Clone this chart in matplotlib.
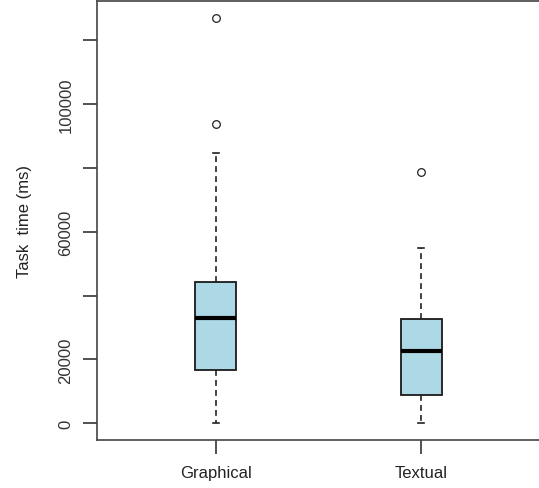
import matplotlib
matplotlib.use("Agg")
import matplotlib.pyplot as plt

plt.rcParams['font.family'] = ['Liberation Sans', 'DejaVu Sans']

# values (ms)
groups = ["Graphical", "Textual"]
lower_whisker = [0, 100]
q1 = [16780, 8760]
median = [32900, 22720]
q3 = [44130, 32640]
upper_whisker = [84500, 54800]
outliers = [[93600, 126900], [78750]]

y_ticks = [0, 20000, 40000, 60000, 80000, 100000, 120000]
y_labels = ["0", "20000", "", "60000", "", "100000", ""]

stats = []
for i, name in enumerate(groups):
    stats.append({
        "label": name,
        "whislo": lower_whisker[i],
        "q1": q1[i],
        "med": median[i],
        "q3": q3[i],
        "whishi": upper_whisker[i],
        "fliers": outliers[i],
    })

fig = plt.figure(figsize=(5.39, 4.89), dpi=100)
ax = fig.add_axes([97 / 539, 48 / 489, 443 / 539, 439 / 489])

ax.bxp(stats, positions=[1, 2], widths=0.2, patch_artist=True,
       boxprops=dict(facecolor="#ADD8E6", edgecolor="#1a1a1a", linewidth=1.3),
       medianprops=dict(color="black", linewidth=3, solid_capstyle="butt"),
       whiskerprops=dict(color="#222222", linewidth=1.2, linestyle=(0, (3.5, 2.5))),
       capprops=dict(color="#222222", linewidth=1.2),
       capwidths=0.025,
       flierprops=dict(marker="o", markersize=5.5, markerfacecolor="none",
                       markeredgecolor="#222222", markeredgewidth=0.9))

ax.set_xlim(0.42, 2.58)
ax.set_ylim(-5230, 132200)

ax.set_yticks(y_ticks)
ax.set_yticklabels(y_labels, rotation=90, va="center", fontsize=12, color="#333333")
ax.set_xticks([1, 2])
ax.set_xticklabels(groups, fontsize=12, color="#222222")
ax.tick_params(axis="both", length=10, width=1.2, color="#333333")
ax.tick_params(axis="y", pad=7)
ax.tick_params(axis="x", pad=8)

ax.spines["right"].set_visible(False)
for s in ["left", "bottom", "top"]:
    ax.spines[s].set_color("#444444")
    ax.spines[s].set_linewidth(1.2)

ax.set_ylabel("Task  time (ms)", fontsize=12, color="#222222", labelpad=19)

fig.savefig("out.png", dpi=100)
